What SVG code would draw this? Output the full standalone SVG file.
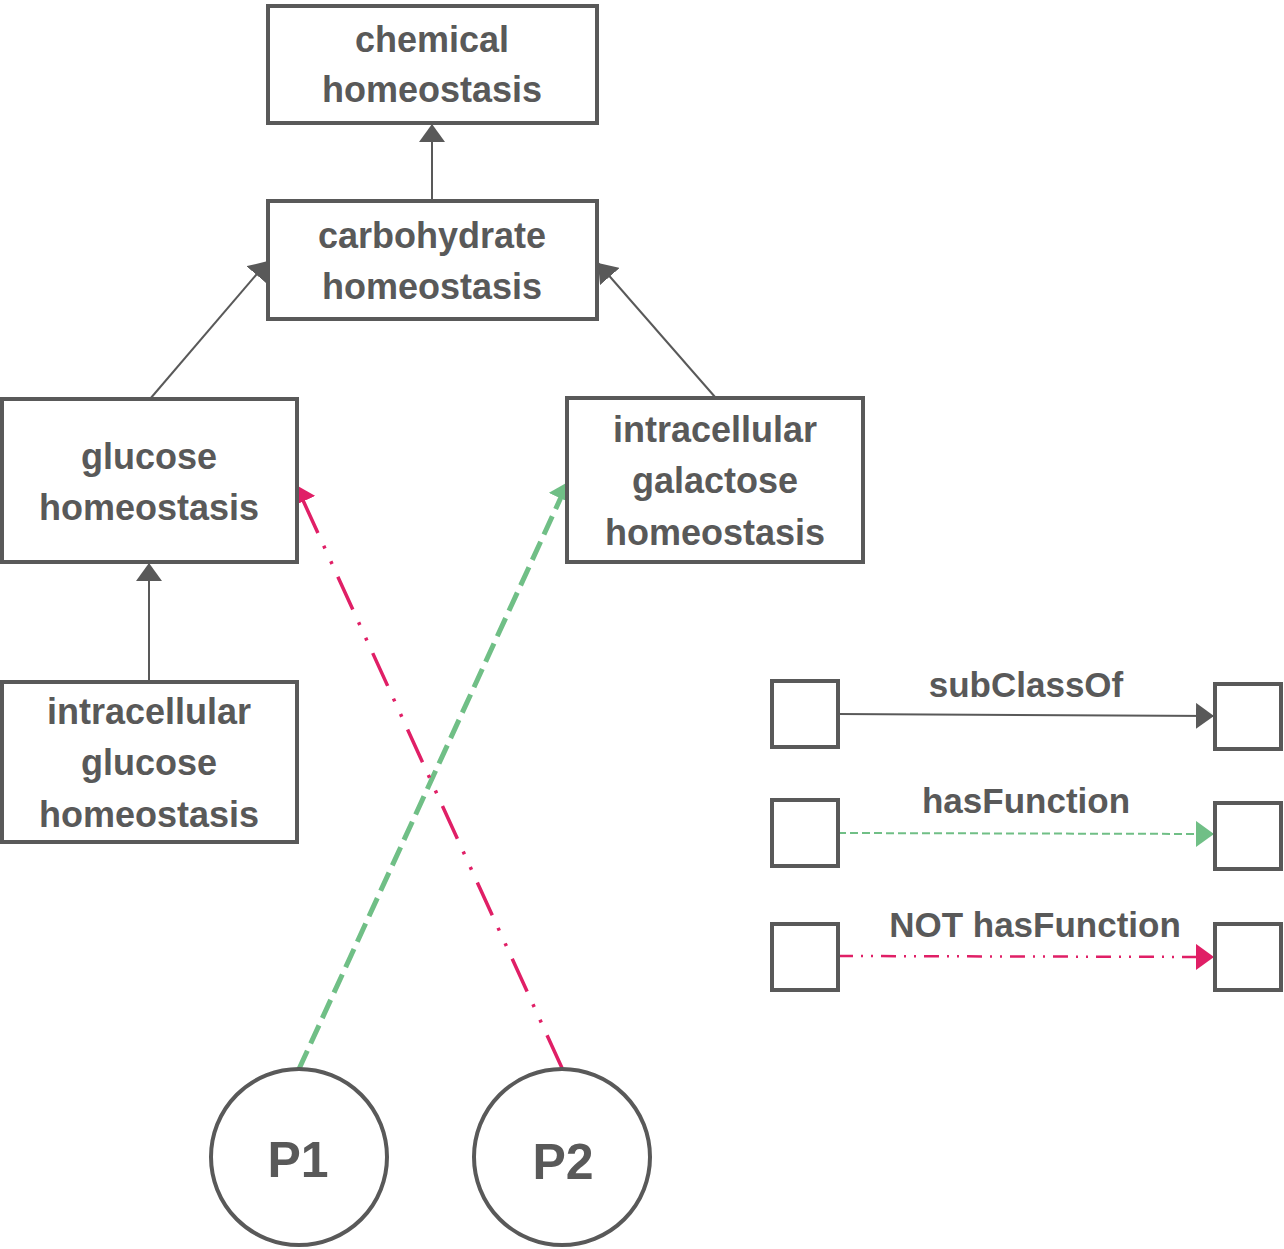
<svg xmlns="http://www.w3.org/2000/svg" width="1284" height="1249" viewBox="0 0 1284 1249">
<style>
.box{fill:#fff;stroke:#595959;stroke-width:4}
.t{font-family:"Liberation Sans",Arial,sans-serif;font-weight:bold;font-size:36px;fill:#595959;text-anchor:middle}
.lg{font-size:35px}
.p{font-size:50px}
.sub{stroke:#595959;stroke-width:2;fill:none}
.hf{stroke:#70bf86;fill:none}
.nhf{stroke:#e01f66;fill:none}
</style>
<defs>
<marker id="ag" markerUnits="userSpaceOnUse" markerWidth="18" markerHeight="26" refX="18" refY="13" orient="auto"><path d="M0,0 L18,13 L0,26 z" fill="#595959"/></marker>
<marker id="agr" markerUnits="userSpaceOnUse" markerWidth="18" markerHeight="26" refX="18" refY="13" orient="auto"><path d="M0,0 L18,13 L0,26 z" fill="#70bf86"/></marker>
<marker id="am" markerUnits="userSpaceOnUse" markerWidth="18" markerHeight="26" refX="18" refY="13" orient="auto"><path d="M0,0 L18,13 L0,26 z" fill="#e01f66"/></marker>
</defs>
<g id="connectors">
<line class="sub" x1="432" y1="201" x2="432" y2="124" marker-end="url(#ag)"/>
<line class="sub" x1="150" y1="399" x2="268" y2="261" marker-end="url(#ag)"/>
<line class="sub" x1="715" y1="397" x2="598" y2="263" marker-end="url(#ag)"/>
<line class="sub" x1="149" y1="682" x2="149" y2="563" marker-end="url(#ag)"/>
<line class="hf" stroke-width="5" stroke-dasharray="20 8" x1="299" y1="1069" x2="568" y2="482" marker-end="url(#agr)"/>
<line class="nhf" stroke-width="3.5" stroke-dasharray="36 14 3 14 3 14" x1="562" y1="1068" x2="296" y2="485" marker-end="url(#am)"/>
<line class="sub" x1="838" y1="714" x2="1214" y2="716" marker-end="url(#ag)"/>
<line class="hf" stroke-width="2" stroke-dasharray="8 4" x1="838" y1="833" x2="1214" y2="834" marker-end="url(#agr)"/>
<line class="nhf" stroke-width="2.5" stroke-dasharray="15 8 2 8 2 8" x1="838" y1="956" x2="1214" y2="957" marker-end="url(#am)"/>
</g>
<g id="chemical">
<rect class="box" x="268" y="6" width="329" height="117"/>
<text class="t" x="432" y="52">chemical</text>
<text class="t" x="432" y="102">homeostasis</text>
</g>
<g id="carbohydrate">
<rect class="box" x="268" y="201" width="329" height="118"/>
<text class="t" x="432" y="248">carbohydrate</text>
<text class="t" x="432" y="299">homeostasis</text>
</g>
<g id="glucose">
<rect class="box" x="2" y="399" width="295" height="163"/>
<text class="t" x="149" y="469">glucose</text>
<text class="t" x="149" y="520">homeostasis</text>
</g>
<g id="galactose">
<rect class="box" x="567" y="398" width="296" height="164"/>
<text class="t" x="715" y="442">intracellular</text>
<text class="t" x="715" y="493">galactose</text>
<text class="t" x="715" y="545">homeostasis</text>
</g>
<g id="intraglucose">
<rect class="box" x="2" y="682" width="295" height="160"/>
<text class="t" x="149" y="724">intracellular</text>
<text class="t" x="149" y="775">glucose</text>
<text class="t" x="149" y="827">homeostasis</text>
</g>
<g id="p1">
<circle class="box" cx="299" cy="1157" r="88"/>
<text class="t p" x="298" y="1177">P1</text>
</g>
<g id="p2">
<circle class="box" cx="562" cy="1157" r="88"/>
<text class="t p" x="563" y="1179">P2</text>
</g>
<g id="legend">
<rect class="box" x="772" y="681" width="66" height="66"/>
<rect class="box" x="1215" y="684" width="66" height="65"/>
<rect class="box" x="772" y="800" width="66" height="66"/>
<rect class="box" x="1215" y="803" width="66" height="66"/>
<rect class="box" x="772" y="924" width="66" height="66"/>
<rect class="box" x="1215" y="924" width="66" height="66"/>
<text class="t lg" x="1026" y="697">subClassOf</text>
<text class="t lg" x="1026" y="813">hasFunction</text>
<text class="t lg" x="1035" y="937">NOT hasFunction</text>
</g>
</svg>
